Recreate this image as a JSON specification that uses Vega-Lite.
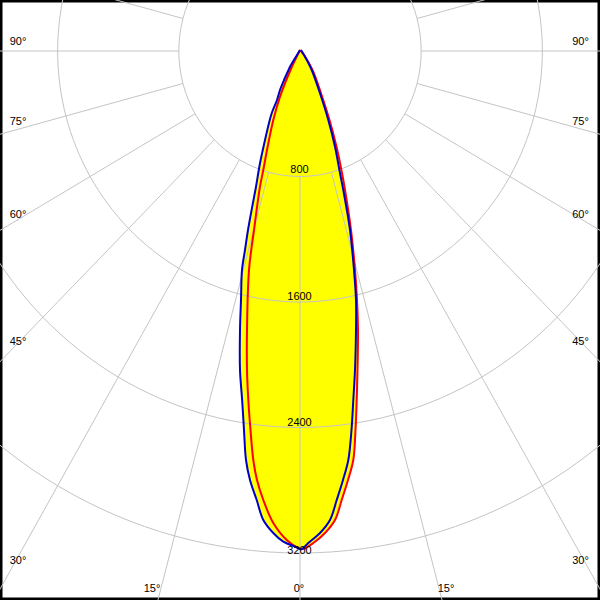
{
  "$schema": "https://vega.github.io/schema/vega-lite/v6.json",
  "width": 600,
  "height": 600,
  "autosize": {"type": "none"},
  "padding": 0,
  "background": "#ffffff",
  "config": {"view": {"stroke": "#000000", "strokeWidth": 5}},
  "datasets": {
    "blue": [
      {"i":0,"x":0,"y":6},{"i":1,"x":-19.8,"y":-25.5},{"i":2,"x":-66.0,"y":-100.1},{"i":3,"x":-75.9,"y":-121.1},
      {"i":4,"x":-105.6,"y":-184.9},{"i":5,"x":-132.0,"y":-248.6},{"i":6,"x":-151.8,"y":-312.3},{"i":7,"x":-186.8,"y":-397.1},
      {"i":8,"x":-207.9,"y":-471.7},{"i":9,"x":-231.0,"y":-567.3},{"i":10,"x":-264.1,"y":-715.8},{"i":11,"x":-290.5,"y":-865.0},
      {"i":12,"x":-307.0,"y":-949.8},{"i":13,"x":-343.3,"y":-1141.0},{"i":14,"x":-363.1,"y":-1268.5},{"i":15,"x":-382.9,"y":-1396.0},
      {"i":16,"x":-389.5,"y":-1587.2},{"i":17,"x":-396.1,"y":-1778.4},{"i":18,"x":-396.1,"y":-2033.4},{"i":19,"x":-382.0,"y":-2224.6},
      {"i":20,"x":-369.7,"y":-2415.8},{"i":21,"x":-356.5,"y":-2607.1},{"i":22,"x":-330.1,"y":-2734.5},{"i":23,"x":-285.8,"y":-2862.0},
      {"i":24,"x":-242.3,"y":-2989.5},{"i":25,"x":-176.3,"y":-3072.4},{"i":26,"x":-110.2,"y":-3127.8},{"i":27,"x":-33.0,"y":-3159.7},
      {"i":28,"x":0,"y":-3174.4},{"i":29,"x":11.2,"y":-3176},{"i":30,"x":54.8,"y":-3136.2},{"i":31,"x":132.0,"y":-3072.4},
      {"i":32,"x":198.0,"y":-2989.5},{"i":33,"x":242.3,"y":-2862.0},{"i":34,"x":283.9,"y":-2734.5},{"i":35,"x":318.9,"y":-2607.1},
      {"i":36,"x":340.0,"y":-2415.8},{"i":37,"x":351.9,"y":-2224.6},{"i":38,"x":363.1,"y":-2033.4},{"i":39,"x":369.7,"y":-1778.4},
      {"i":40,"x":369.7,"y":-1587.2},{"i":41,"x":356.5,"y":-1396.0},{"i":42,"x":330.1,"y":-1141.0},{"i":43,"x":285.8,"y":-886.0},
      {"i":44,"x":264.1,"y":-779.6},{"i":45,"x":231.1,"y":-610.0},{"i":46,"x":186.8,"y":-439.8},{"i":47,"x":132.0,"y":-269.6},
      {"i":48,"x":77.2,"y":-121.1},{"i":49,"x":26.4,"y":-25.5},{"i":50,"x":6.6,"y":6}
    ],
    "red": [
      {"i":0,"x":0,"y":6},{"i":1,"x":-62.7,"y":-121.1},{"i":2,"x":-132.0,"y":-291.3},{"i":3,"x":-176.3,"y":-439.8},
      {"i":4,"x":-217.8,"y":-631.1},{"i":5,"x":-242.3,"y":-758.5},{"i":6,"x":-264.1,"y":-865.0},{"i":7,"x":-303.7,"y":-1141.0},
      {"i":8,"x":-336.7,"y":-1396.0},{"i":9,"x":-349.9,"y":-1778.4},{"i":10,"x":-349.9,"y":-2033.4},{"i":11,"x":-341.3,"y":-2224.6},
      {"i":12,"x":-326.8,"y":-2415.8},{"i":13,"x":-308.3,"y":-2607.1},{"i":14,"x":-283.9,"y":-2734.5},{"i":15,"x":-242.3,"y":-2862.0},
      {"i":16,"x":-176.3,"y":-3008.7},{"i":17,"x":-87.8,"y":-3117.0},{"i":18,"x":-11.2,"y":-3168.0},{"i":19,"x":21.8,"y":-3174.4},
      {"i":20,"x":87.8,"y":-3136.2},{"i":21,"x":165.0,"y":-3072.4},{"i":22,"x":231.1,"y":-2989.5},{"i":23,"x":275.3,"y":-2862.0},
      {"i":24,"x":316.9,"y":-2734.5},{"i":25,"x":351.8,"y":-2607.1},{"i":26,"x":366.4,"y":-2415.8},{"i":27,"x":374.3,"y":-2224.6},
      {"i":28,"x":379.6,"y":-2033.4},{"i":29,"x":382.9,"y":-1778.4},{"i":30,"x":376.3,"y":-1587.2},{"i":31,"x":363.1,"y":-1396.0},
      {"i":32,"x":336.7,"y":-1141.0},{"i":33,"x":297.1,"y":-886.0},{"i":34,"x":277.3,"y":-777.7},{"i":35,"x":241.0,"y":-610.0},
      {"i":36,"x":194.7,"y":-439.8},{"i":37,"x":138.6,"y":-269.6},{"i":38,"x":82.5,"y":-121.1},{"i":39,"x":26.4,"y":-25.5},
      {"i":40,"x":0,"y":6}
    ],
    "ring": [
      {"r":800,"k":0,"x":0,"y":-800},{"r":800,"k":1,"x":207.1,"y":-772.7},{"r":800,"k":2,"x":400,"y":-692.8},{"r":800,"k":3,"x":565.7,"y":-565.7},
      {"r":800,"k":4,"x":692.8,"y":-400},{"r":800,"k":5,"x":772.7,"y":-207.1},{"r":800,"k":6,"x":800,"y":0},{"r":800,"k":7,"x":772.7,"y":207.1},
      {"r":800,"k":8,"x":692.8,"y":400},{"r":800,"k":9,"x":565.7,"y":565.7},{"r":800,"k":10,"x":400,"y":692.8},{"r":800,"k":11,"x":207.1,"y":772.7},
      {"r":800,"k":12,"x":0,"y":800},{"r":800,"k":13,"x":-207.1,"y":772.7},{"r":800,"k":14,"x":-400,"y":692.8},{"r":800,"k":15,"x":-565.7,"y":565.7},
      {"r":800,"k":16,"x":-692.8,"y":400},{"r":800,"k":17,"x":-772.7,"y":207.1},{"r":800,"k":18,"x":-800,"y":0},{"r":800,"k":19,"x":-772.7,"y":-207.1},
      {"r":800,"k":20,"x":-692.8,"y":-400},{"r":800,"k":21,"x":-565.7,"y":-565.7},{"r":800,"k":22,"x":-400,"y":-692.8},{"r":800,"k":23,"x":-207.1,"y":-772.7},
      {"r":1600,"k":0,"x":0,"y":-1600},{"r":1600,"k":1,"x":414.1,"y":-1545.5},{"r":1600,"k":2,"x":800,"y":-1385.6},{"r":1600,"k":3,"x":1131.4,"y":-1131.4},
      {"r":1600,"k":4,"x":1385.6,"y":-800},{"r":1600,"k":5,"x":1545.5,"y":-414.1},{"r":1600,"k":6,"x":1600,"y":0},{"r":1600,"k":7,"x":1545.5,"y":414.1},
      {"r":1600,"k":8,"x":1385.6,"y":800},{"r":1600,"k":9,"x":1131.4,"y":1131.4},{"r":1600,"k":10,"x":800,"y":1385.6},{"r":1600,"k":11,"x":414.1,"y":1545.5},
      {"r":1600,"k":12,"x":0,"y":1600},{"r":1600,"k":13,"x":-414.1,"y":1545.5},{"r":1600,"k":14,"x":-800,"y":1385.6},{"r":1600,"k":15,"x":-1131.4,"y":1131.4},
      {"r":1600,"k":16,"x":-1385.6,"y":800},{"r":1600,"k":17,"x":-1545.5,"y":414.1},{"r":1600,"k":18,"x":-1600,"y":0},{"r":1600,"k":19,"x":-1545.5,"y":-414.1},
      {"r":1600,"k":20,"x":-1385.6,"y":-800},{"r":1600,"k":21,"x":-1131.4,"y":-1131.4},{"r":1600,"k":22,"x":-800,"y":-1385.6},{"r":1600,"k":23,"x":-414.1,"y":-1545.5},
      {"r":2400,"k":0,"x":0,"y":-2400},{"r":2400,"k":1,"x":621.2,"y":-2318.2},{"r":2400,"k":2,"x":1200,"y":-2078.5},{"r":2400,"k":3,"x":1697.1,"y":-1697.1},
      {"r":2400,"k":4,"x":2078.5,"y":-1200},{"r":2400,"k":5,"x":2318.2,"y":-621.2},{"r":2400,"k":6,"x":2400,"y":0},{"r":2400,"k":7,"x":2318.2,"y":621.2},
      {"r":2400,"k":8,"x":2078.5,"y":1200},{"r":2400,"k":9,"x":1697.1,"y":1697.1},{"r":2400,"k":10,"x":1200,"y":2078.5},{"r":2400,"k":11,"x":621.2,"y":2318.2},
      {"r":2400,"k":12,"x":0,"y":2400},{"r":2400,"k":13,"x":-621.2,"y":2318.2},{"r":2400,"k":14,"x":-1200,"y":2078.5},{"r":2400,"k":15,"x":-1697.1,"y":1697.1},
      {"r":2400,"k":16,"x":-2078.5,"y":1200},{"r":2400,"k":17,"x":-2318.2,"y":621.2},{"r":2400,"k":18,"x":-2400,"y":0},{"r":2400,"k":19,"x":-2318.2,"y":-621.2},
      {"r":2400,"k":20,"x":-2078.5,"y":-1200},{"r":2400,"k":21,"x":-1697.1,"y":-1697.1},{"r":2400,"k":22,"x":-1200,"y":-2078.5},{"r":2400,"k":23,"x":-621.2,"y":-2318.2},
      {"r":3200,"k":0,"x":0,"y":-3200},{"r":3200,"k":1,"x":828.2,"y":-3091.0},{"r":3200,"k":2,"x":1600,"y":-2771.3},{"r":3200,"k":3,"x":2262.7,"y":-2262.7},
      {"r":3200,"k":4,"x":2771.3,"y":-1600},{"r":3200,"k":5,"x":3091.0,"y":-828.2},{"r":3200,"k":6,"x":3200,"y":0},{"r":3200,"k":7,"x":3091.0,"y":828.2},
      {"r":3200,"k":8,"x":2771.3,"y":1600},{"r":3200,"k":9,"x":2262.7,"y":2262.7},{"r":3200,"k":10,"x":1600,"y":2771.3},{"r":3200,"k":11,"x":828.2,"y":3091.0},
      {"r":3200,"k":12,"x":0,"y":3200},{"r":3200,"k":13,"x":-828.2,"y":3091.0},{"r":3200,"k":14,"x":-1600,"y":2771.3},{"r":3200,"k":15,"x":-2262.7,"y":2262.7},
      {"r":3200,"k":16,"x":-2771.3,"y":1600},{"r":3200,"k":17,"x":-3091.0,"y":828.2},{"r":3200,"k":18,"x":-3200,"y":0},{"r":3200,"k":19,"x":-3091.0,"y":-828.2},
      {"r":3200,"k":20,"x":-2771.3,"y":-1600},{"r":3200,"k":21,"x":-2262.7,"y":-2262.7},{"r":3200,"k":22,"x":-1600,"y":-2771.3},{"r":3200,"k":23,"x":-828.2,"y":-3091.0}
    ],
    "radial": [
      {"a":0,"x":0,"y":-800,"x2":0,"y2":-6000},
      {"a":15,"x":207.1,"y":-772.7,"x2":1552.9,"y2":-5795.6},
      {"a":30,"x":400,"y":-692.8,"x2":3000,"y2":-5196.2},
      {"a":45,"x":565.7,"y":-565.7,"x2":4242.6,"y2":-4242.6},
      {"a":60,"x":692.8,"y":-400,"x2":5196.2,"y2":-3000},
      {"a":75,"x":772.7,"y":-207.1,"x2":5795.6,"y2":-1552.9},
      {"a":90,"x":800,"y":0,"x2":6000,"y2":0},
      {"a":105,"x":772.7,"y":207.1,"x2":5795.6,"y2":1552.9},
      {"a":-15,"x":-207.1,"y":-772.7,"x2":-1552.9,"y2":-5795.6},
      {"a":-30,"x":-400,"y":-692.8,"x2":-3000,"y2":-5196.2},
      {"a":-45,"x":-565.7,"y":-565.7,"x2":-4242.6,"y2":-4242.6},
      {"a":-60,"x":-692.8,"y":-400,"x2":-5196.2,"y2":-3000},
      {"a":-75,"x":-772.7,"y":-207.1,"x2":-5795.6,"y2":-1552.9},
      {"a":-90,"x":-800,"y":0,"x2":-6000,"y2":0},
      {"a":-105,"x":-772.7,"y":207.1,"x2":-5795.6,"y2":1552.9}
    ],
    "labels": [
      {"t":"90°","x":-1861.6,"y":57.4},{"t":"90°","x":1851.7,"y":57.4},
      {"t":"75°","x":-1861.6,"y":-451},{"t":"75°","x":1851.7,"y":-451},
      {"t":"60°","x":-1861.6,"y":-1042.2},{"t":"60°","x":1851.7,"y":-1042.2},
      {"t":"45°","x":-1861.6,"y":-1858.1},{"t":"45°","x":1851.7,"y":-1858.1},
      {"t":"30°","x":-1861.6,"y":-3250.9},{"t":"30°","x":1851.7,"y":-3250.9},
      {"t":"15°","x":-977,"y":-3429.4},{"t":"15°","x":963.8,"y":-3429.4},
      {"t":"0°","x":-6.6,"y":-3429.4},
      {"t":"800","x":-3.3,"y":-758.5},{"t":"1600","x":-3.3,"y":-1564.9},
      {"t":"2400","x":-3.3,"y":-2371.2},{"t":"3200","x":-3.3,"y":-3187.2}
    ]
  },
  "encoding": {
    "x": {"field": "x", "type": "quantitative", "scale": {"domain": [-1980.45, 1980.45], "nice": false, "zero": false}, "axis": null},
    "y": {"field": "y", "type": "quantitative", "scale": {"domain": [-3499.5, 325.1], "nice": false, "zero": false}, "axis": null}
  },
  "layer": [
    {"data": {"name": "blue"}, "mark": {"type": "line", "interpolate": "catmull-rom", "fill": "#ffff00", "stroke": "#ffff00", "strokeWidth": 0.5, "clip": true},
     "encoding": {"order": {"field": "i", "type": "quantitative"}}},
    {"data": {"name": "red"}, "mark": {"type": "line", "interpolate": "catmull-rom", "fill": "#ffff00", "stroke": "#ffff00", "strokeWidth": 0.5, "clip": true},
     "encoding": {"order": {"field": "i", "type": "quantitative"}}},
    {"data": {"name": "ring"}, "mark": {"type": "line", "interpolate": "cardinal-closed", "stroke": "#c4c4c4", "strokeWidth": 1, "clip": true},
     "encoding": {"detail": {"field": "r", "type": "nominal"}, "order": {"field": "k", "type": "quantitative"}}},
    {"data": {"name": "radial"}, "mark": {"type": "rule", "stroke": "#c4c4c4", "strokeWidth": 1, "clip": true},
     "encoding": {"x2": {"field": "x2"}, "y2": {"field": "y2"}}},
    {"data": {"name": "red"}, "mark": {"type": "line", "interpolate": "catmull-rom", "stroke": "#ff0000", "strokeWidth": 2, "clip": true},
     "encoding": {"order": {"field": "i", "type": "quantitative"}}},
    {"data": {"name": "blue"}, "mark": {"type": "line", "interpolate": "catmull-rom", "stroke": "#0000c8", "strokeWidth": 2, "clip": true},
     "encoding": {"order": {"field": "i", "type": "quantitative"}}},
    {"data": {"name": "labels"}, "mark": {"type": "text", "font": "Liberation Sans", "fontSize": 11, "color": "#000000", "align": "center", "baseline": "middle"},
     "encoding": {"text": {"field": "t", "type": "nominal"}}}
  ]
}
